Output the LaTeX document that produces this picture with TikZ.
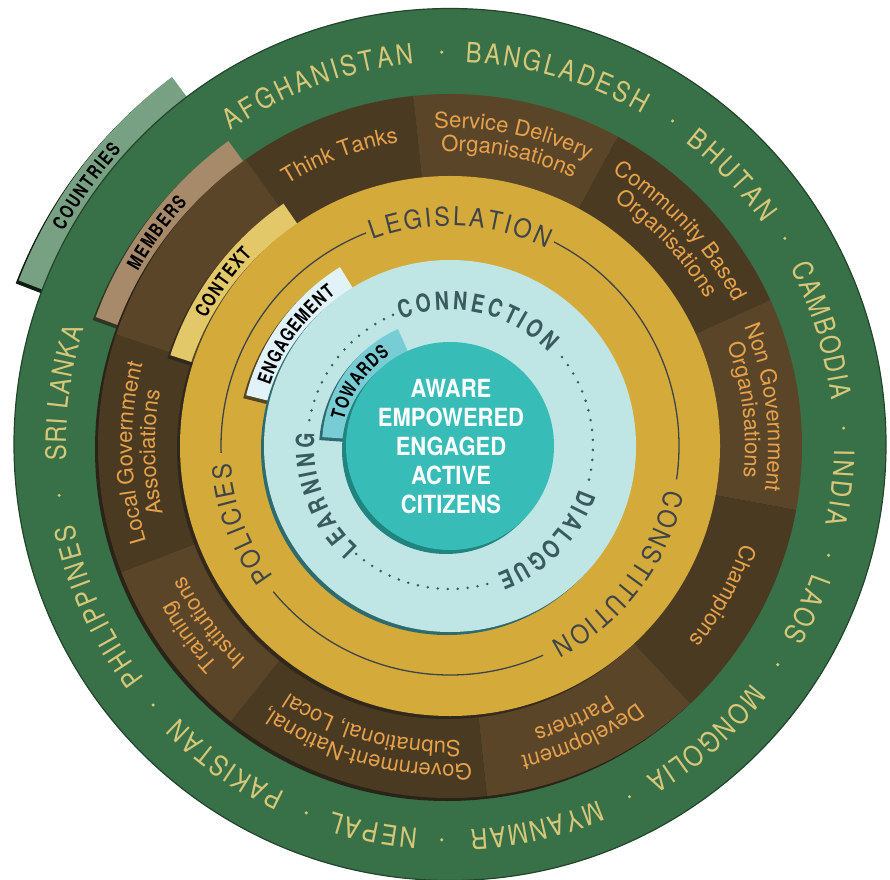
\documentclass[tikz,border=0pt]{standalone}
\usepackage{fontspec}
\setmainfont{TeX Gyre Heros}
\newfontfamily\ctryfont[FakeStretch=0.85]{TeX Gyre Heros}
\newfontfamily\goldfont[FakeStretch=0.9]{TeX Gyre Heros}
\newfontfamily\cnfont[FakeStretch=0.78]{TeX Gyre Heros}
\newfontfamily\corefont[FakeStretch=0.88]{TeX Gyre Heros}
\usetikzlibrary{decorations.text}
\definecolor{grn}{HTML}{387048}
\definecolor{grnedge}{HTML}{22452C}
\definecolor{ctext}{HTML}{D7C879}
\definecolor{bD}{HTML}{4B3A22}
\definecolor{bL}{HTML}{5A4529}
\definecolor{btext}{HTML}{E6A24B}
\definecolor{goldc}{HTML}{D4AA3A}
\definecolor{gtext}{HTML}{3E4449}
\definecolor{lblue}{HTML}{BFE5E5}
\definecolor{lbedge}{HTML}{2F6A6E}
\definecolor{ttext}{HTML}{3A5B5E}
\definecolor{tealc}{HTML}{38BCB8}
\definecolor{tealedge}{HTML}{22847E}
\definecolor{tabC}{HTML}{78A083}
\definecolor{tabM}{HTML}{A68A6A}
\definecolor{tabX}{HTML}{E2C868}
\definecolor{tabE}{HTML}{E1F3F8}
\definecolor{tabT}{HTML}{78CDD4}
\definecolor{shd}{HTML}{2A2418}
\tikzset{
  gline/.style={draw=gtext,line width=1.3pt},
  dotline/.style={draw=ttext,line width=2.8pt,dash pattern=on 0pt off 10pt,line cap=round},
  tabshadow/.style={shd,opacity=.75,shift={(-3,-3)}}
}
% fill an annular sector: style, a1, a2, r_in, r_out
\newcommand\sectorfill[5]{\fill[#1] (#2:#5) arc[start angle=#2,end angle=#3,radius=#5] -- (#3:#4) arc[start angle=#3,end angle=#2,radius=#4] -- cycle;}
% text along a clockwise arc: text, colour, a1, a2, radius, alignment
\newcommand\arctext[6]{\path[decorate,decoration={text along path,text color=#2,text align=#6,text={#1}}] (#3:#5) arc[start angle=#3,end angle=#4,radius=#5];}
\newcommand\ctry{\ctryfont\fontsize{28}{30}\selectfont}
\newcommand\brn{\fontsize{22}{24}\selectfont}
\newcommand\gld{\goldfont\fontsize{26}{28}\selectfont}
\newcommand\blu{\cnfont\bfseries\fontsize{25}{27}\selectfont}
\newcommand\tabf{\cnfont\bfseries\fontsize{19}{21}\selectfont}
\begin{document}
\begin{tikzpicture}[x=1pt,y=1pt]
\useasboundingbox (0,0) rectangle (890,879);
\fill[white] (0,0) rectangle (890,879);
\begin{scope}[shift={(450,433)}]
% COUNTRIES tab
\sectorfill{black!75!grn,shift={(-3,-3)}}{127}{159}{420}{462}
\sectorfill{tabC}{127}{159}{420}{462}
% green ring
\fill[grn,draw=grnedge,line width=1.2pt] (0,1.5) circle (436);
% MEMBERS tab
\sectorfill{tabshadow}{126}{160}{340}{377}
\sectorfill{tabM}{126}{160}{340}{377}
% brown ring
\fill[shd,shift={(-3,-3)}] (0,0) circle (352);
\sectorfill{bD}{96}{125.5}{250}{352}
\sectorfill{bL}{61.5}{96}{250}{352}
\sectorfill{bD}{24.5}{61.5}{250}{352}
\sectorfill{bL}{-10.5}{24.5}{250}{352}
\sectorfill{bD}{-47}{-10.5}{250}{352}
\sectorfill{bL}{-84}{-47}{250}{352}
\sectorfill{bD}{-128.5}{-84}{250}{352}
\sectorfill{bL}{-159}{-128.5}{250}{352}
\sectorfill{bD}{161.5}{201}{250}{352}
\sectorfill{bL}{125.5}{161.5}{250}{352}
% CONTEXT tab
\sectorfill{tabshadow}{124.5}{162}{255}{294}
\sectorfill{tabX}{124.5}{162}{255}{294}
% gold ring
\fill[shd,opacity=.8,shift={(-3,-3)}] (0,0) circle (270);
\fill[goldc] (0,0) circle (270);
\draw[gline] (111.5:229) arc[start angle=111.5,end angle=181.7,radius=229];
\draw[gline] (-8.4:229) arc[start angle=-8.4,end angle=63,radius=229];
\draw[gline] (-140.5:229) arc[start angle=-140.5,end angle=-66,radius=229];
% ENGAGEMENT tab
\sectorfill{tabshadow}{121.6}{166}{170}{210}
\sectorfill{tabE}{121.6}{166}{170}{210}
% light blue disc
\fill[lbedge,shift={(-3,-3)}] (0,0) circle (186);
\fill[lblue] (0,0) circle (186);
\draw[dotline] (-13.6:143) arc[start angle=-13.6,end angle=41.9,radius=143];
\draw[dotline] (113.5:143) arc[start angle=113.5,end angle=172.3,radius=143];
\draw[dotline] (-131:143) arc[start angle=-131,end angle=-72.2,radius=143];
% TOWARDS tab
\sectorfill{lbedge,shift={(-3,-3)}}{114}{176}{90}{128}
\sectorfill{tabT}{114}{176}{90}{128}
% teal core
\fill[tealedge,shift={(-4,-4)}] (0,0) circle (104);
\fill[tealc] (0,0) circle (104);
\node[align=center,text=white,inner sep=0pt,font=\corefont\bfseries\fontsize{25}{29}\selectfont] (core) at (1,-1) {AWARE\\EMPOWERED\\ENGAGED\\ACTIVE\\CITIZENS};
% country names
\arctext{|\ctry|AFGHANISTAN}{ctext}{124.8}{95.4}{384}{fit to path}
\arctext{|\ctry|BANGLADESH}{ctext}{87.7}{60}{384}{fit to path}
\arctext{|\ctry|BHUTAN}{ctext}{52.1}{35.4}{384}{fit to path}
\arctext{|\ctry|CAMBODIA}{ctext}{27.7}{6.8}{384}{fit to path}
\arctext{|\ctry|INDIA}{ctext}{-0.5}{-11.8}{384}{fit to path}
\arctext{|\ctry|LAOS}{ctext}{-19.4}{-29.8}{384}{fit to path}
\arctext{|\ctry|MONGOLIA}{ctext}{-38.2}{-59.4}{384}{fit to path}
\arctext{|\ctry|MYANMAR}{ctext}{-67.3}{-87}{384}{fit to path}
\arctext{|\ctry|NEPAL}{ctext}{-94.8}{-107.8}{384}{fit to path}
\arctext{|\ctry|PAKISTAN}{ctext}{-115.4}{-134.9}{384}{fit to path}
\arctext{|\ctry|PHILIPPINES}{ctext}{-142.8}{-168.2}{384}{fit to path}
\arctext{|\ctry|SRI LANKA}{ctext}{182.2}{162.2}{384}{fit to path}
\foreach \a in {91.2,55.6,31.8,2.6,-16.1,-33.7,-62.9,-91.2,-111.4,-138.9,-172.8}
  \fill[ctext] (\a:394) circle (1.7);
% members
\arctext{|\brn|Think Tanks}{btext}{124}{97.5}{308}{center}
\arctext{|\brn|Service Delivery}{btext}{95}{62}{318}{center}
\arctext{|\brn|Organisations}{btext}{95}{62}{295}{center}
\arctext{|\brn|Community Based}{btext}{60}{26}{318}{center}
\arctext{|\brn|Organisations}{btext}{60}{26}{295}{center}
\arctext{|\brn|Non Government}{btext}{23}{-9}{318}{center}
\arctext{|\brn|Organisations}{btext}{23}{-9}{295}{center}
\arctext{|\brn|Champions}{btext}{-12}{-45.5}{308}{center}
\arctext{|\brn|Development}{btext}{-48.5}{-82.5}{318}{center}
\arctext{|\brn|Partners}{btext}{-48.5}{-82.5}{295}{center}
\arctext{|\brn|Government-National,}{btext}{-84.5}{-126.5}{318}{center}
\arctext{|\brn|Subnational, Local}{btext}{-84.5}{-126.5}{295}{center}
\arctext{|\brn|Training}{btext}{-130}{-157.5}{318}{center}
\arctext{|\brn|Institutions}{btext}{-130}{-157.5}{295}{center}
\arctext{|\brn|Local Government}{btext}{200}{162.5}{318}{center}
\arctext{|\brn|Associations}{btext}{200}{162.5}{295}{center}
% context
\arctext{|\gld|LEGISLATION}{gtext}{110.5}{64}{220}{fit to path}
\arctext{|\gld|CONSTITUTION}{gtext}{-11.3}{-62.7}{220}{fit to path}
\arctext{|\gld|POLICIES}{gtext}{216.5}{184.5}{220}{fit to path}
% engagement
\arctext{|\blu|CONNECTION}{ttext}{111.2}{43.8}{136}{fit to path}
\arctext{|\blu|DIALOGUE}{ttext}{-18.6}{-69.8}{136}{fit to path}
\arctext{|\blu|LEARNING}{ttext}{227.9}{174.8}{136}{fit to path}
% tab labels
\arctext{|\tabf|COUNTRIES}{black}{151}{138}{442}{fit to path}
\arctext{|\tabf|MEMBERS}{black}{150.75}{137.25}{357.6}{fit to path}
\arctext{|\tabf|CONTEXT}{black}{152.45}{135.95}{275}{fit to path}
\arctext{|\tabf|ENGAGEMENT}{black}{161.5}{127}{190}{fit to path}
\arctext{|\tabf|TOWARDS}{black}{166.5}{123.5}{109}{fit to path}
\end{scope}
\end{tikzpicture}
\end{document}
